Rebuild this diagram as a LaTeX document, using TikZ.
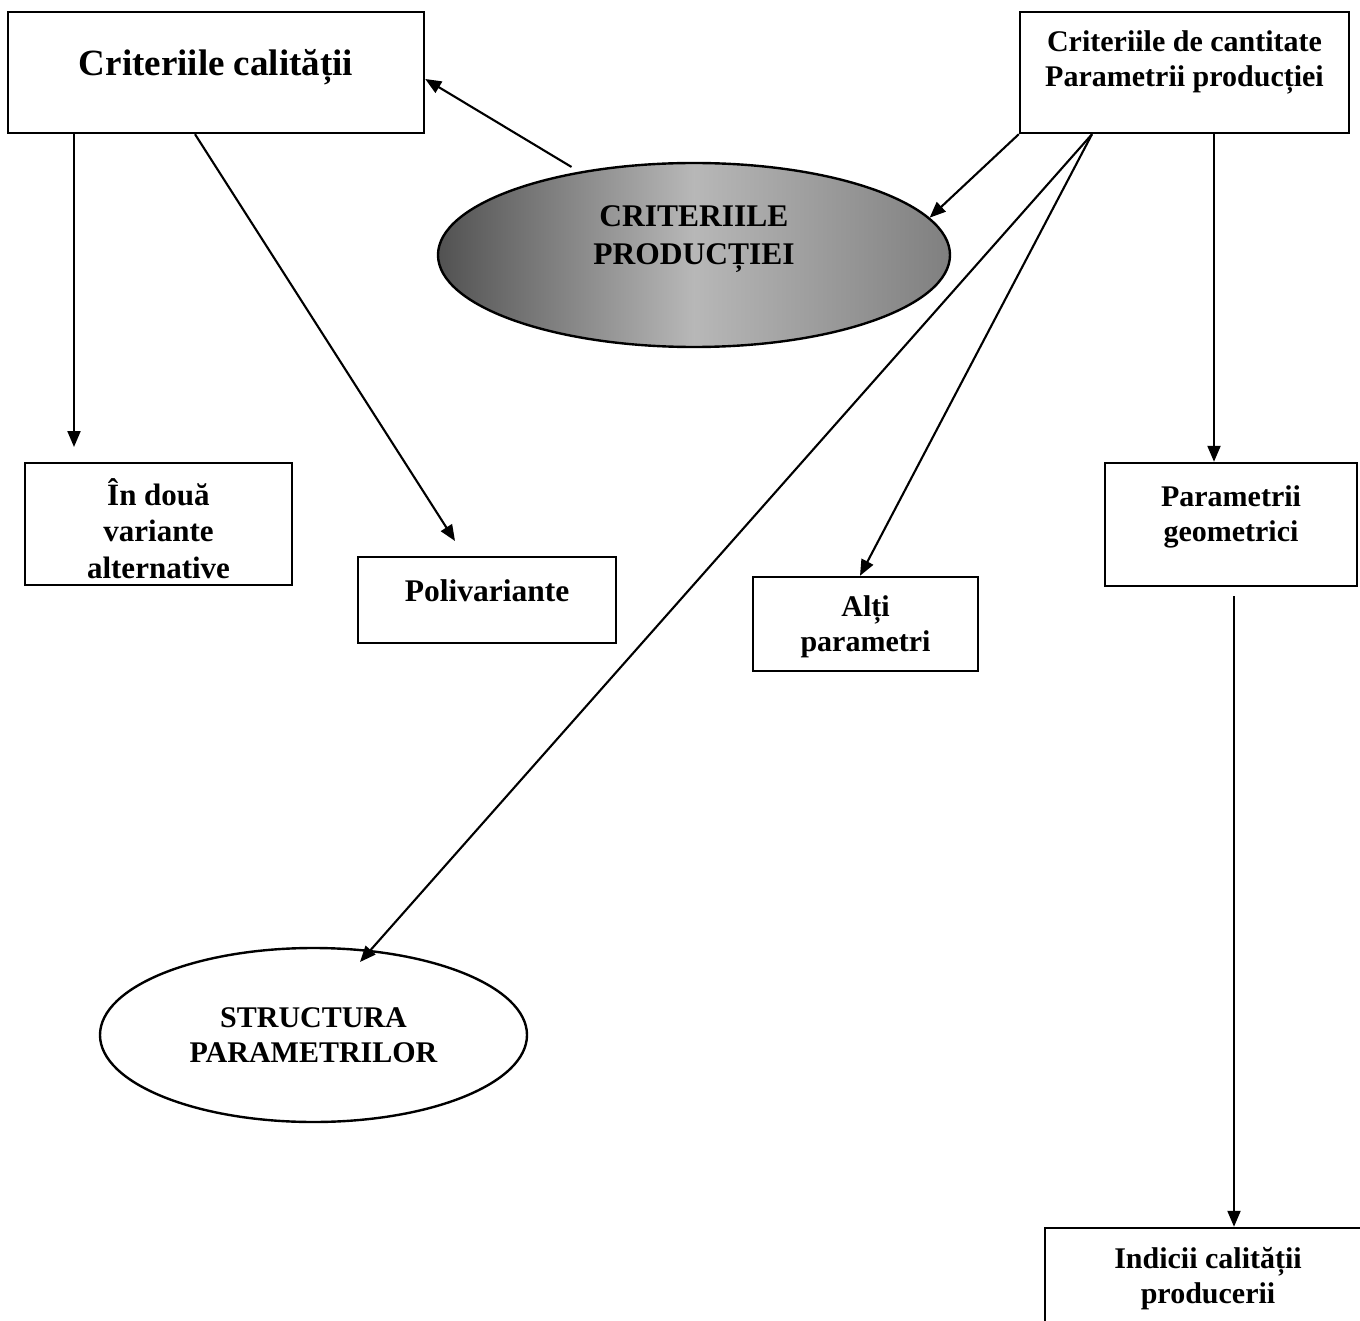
\documentclass[tikz,border=0pt]{standalone}
\usepackage{fontspec}
\setmainfont{Liberation Serif}
\usetikzlibrary{arrows.meta,shapes.geometric}
\tikzset{
  box/.style={draw, line width=2.4pt, inner sep=0pt, align=center, font=\fontsize{30}{35}\selectfont\bfseries},
  oval/.style={draw, ellipse, line width=2.4pt, inner sep=0pt, align=center, font=\fontsize{30}{35}\selectfont\bfseries},
  arr/.style={line width=2.1pt, -{Triangle[length=16pt,width=13pt]}},
}
\begin{document}
\begin{tikzpicture}[x=1pt,y=-1pt]
\useasboundingbox (0,0) rectangle (1360,1321);
\clip (0,0) rectangle (1360,1321);
\fill[white] (0,0) rectangle (1360,1321);

% boxes
\node[box, minimum width=416pt, minimum height=121pt, font=\fontsize{37}{42}\selectfont\bfseries, text depth=20pt] (Q) at (216,72.5) {Criteriile calității};
\node[box, minimum width=329pt, minimum height=121pt, text depth=27pt] (C) at (1184.5,72.5) {Criteriile de cantitate\\Parametrii producției};
\node[oval, minimum width=512pt, minimum height=184pt, left color=black!68, right color=black!50, middle color=black!28, font=\fontsize{31.5}{38}\selectfont\bfseries, text depth=40pt] (E) at (694,255) {CRITERIILE\\PRODUCȚIEI};
\node[box, minimum width=267pt, minimum height=122pt, font=\fontsize{31}{36.5}\selectfont\bfseries, text height=108pt, text depth=0pt] (A) at (158.5,524) {În două\\variante\\alternative};
\node[box, minimum width=258pt, minimum height=86pt, font=\fontsize{31.5}{36}\selectfont\bfseries, text depth=18pt] (P) at (487,600) {Polivariante};
\node[box, minimum width=225pt, minimum height=94pt, text depth=0pt] (L) at (865.5,624) {Alți\\parametri};
\node[box, minimum width=252pt, minimum height=123pt, text depth=22pt] (G) at (1231,524.5) {Parametrii\\geometrici};
\node[box, minimum width=326pt, minimum height=94pt, text depth=0pt] (I) at (1208,1275) {Indicii calității\\producerii};
\node[oval, minimum width=427pt, minimum height=174pt] (S) at (313.5,1035) {STRUCTURA\\PARAMETRILOR};

% free ends
\coordinate (a1) at (74,447);
\coordinate (a2) at (455,541);
\coordinate (s0) at (1092,133);
\coordinate (sS) at (360,962);
\coordinate (g0) at (1234,596);

% connectors
\draw[arr] (Q.south -| a1) -- (a1);
\draw[arr] (Q.south -| 195,0) -- (a2);
\draw[arr, shorten <=9pt] (E.144) -- (Q.east |- 0,79);
\draw[arr] (C.south west) -- (E.9);
\draw[arr] (C.south -| s0) -- (sS);
\draw[arr] (C.south -| s0) -- (L.north -| 860,0);
\draw[arr] (C.south -| 1214,0) -- (G.north -| 1214,0);
\draw[arr] (g0) -- (I.north -| g0);
\end{tikzpicture}
\end{document}
